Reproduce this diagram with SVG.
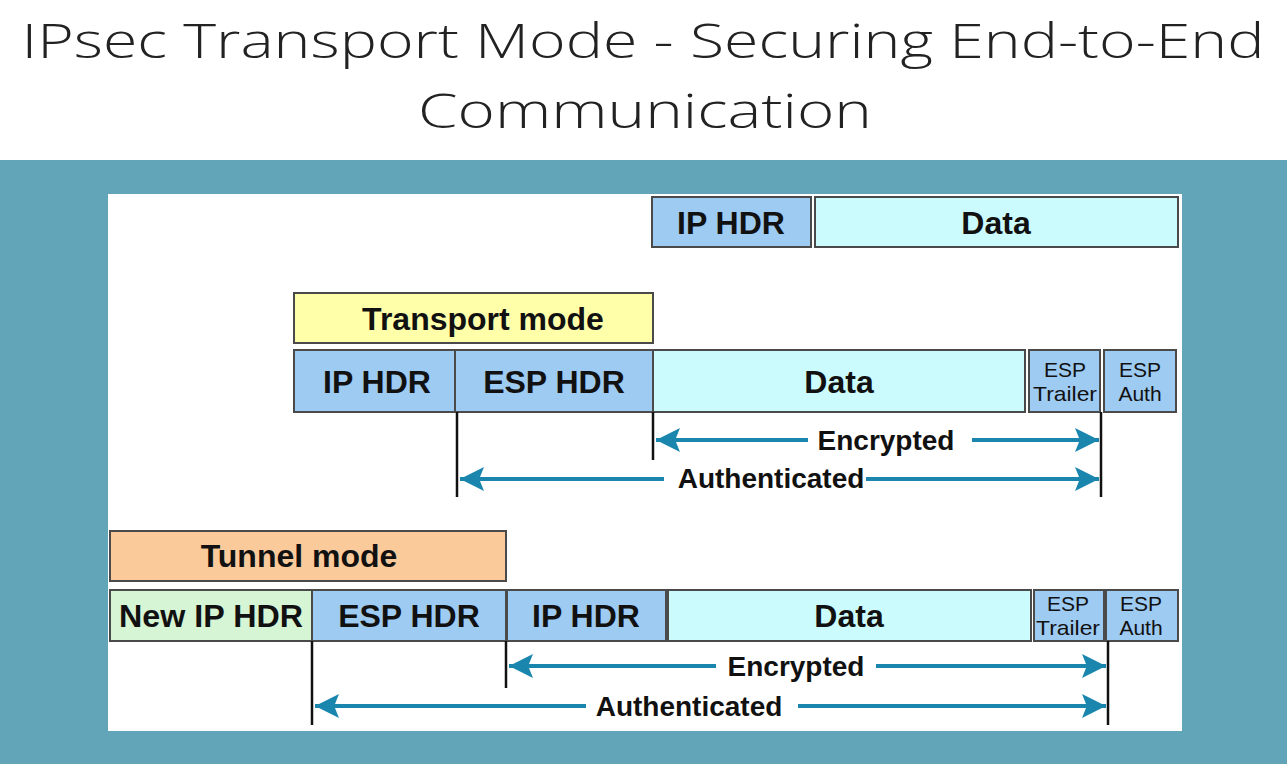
<svg xmlns="http://www.w3.org/2000/svg" width="1287" height="764" viewBox="0 0 1287 764">
<defs>
<style>
.box{stroke:#4a4a4a;stroke-width:2}
.hdr{fill:#9ECBF2}
.dat{fill:#CCFBFD}
.lbl{font-family:"Liberation Sans",Arial,sans-serif;font-weight:bold;font-size:32px;fill:#111;text-anchor:middle}
.sm{font-family:"Liberation Sans",Arial,sans-serif;font-size:21px;fill:#111;text-anchor:middle}
.vl{stroke:#111;stroke-width:2.5}
.arr{stroke:#1A86AE;stroke-width:4;fill:none}
.albl{font-family:"Liberation Sans",Arial,sans-serif;font-weight:bold;font-size:28px;fill:#111;text-anchor:middle}
.ttl{font-family:"Open Sans",sans-serif;font-weight:300;font-size:48px;fill:#222;text-anchor:middle}
</style>
<marker id="ah" viewBox="0 0 10 10" refX="10" refY="5" markerWidth="6" markerHeight="6" markerUnits="strokeWidth" orient="auto-start-reverse">
<path d="M0,0 L10,5 L0,10 L2,5 Z" fill="#1A86AE"/>
</marker>
</defs>
<rect width="1287" height="764" fill="#ffffff"/>
<text class="ttl" x="643" y="58" textLength="1243" lengthAdjust="spacingAndGlyphs">IPsec Transport Mode - Securing End-to-End</text>
<text class="ttl" x="645" y="128" textLength="454" lengthAdjust="spacingAndGlyphs">Communication</text>
<rect x="0" y="160" width="1287" height="604" fill="#62A5B8"/>
<rect x="108" y="194" width="1074" height="537" fill="#ffffff"/>

<g id="orig-ip"><rect class="box hdr" x="652" y="197" width="159" height="50"/><text class="lbl" x="731" y="234">IP HDR</text></g>
<g id="orig-data"><rect class="box dat" x="815" y="197" width="363" height="50"/><text class="lbl" x="996" y="234">Data</text></g>

<g id="transport-mode"><rect class="box" fill="#FFFFAA" x="294" y="293" width="359" height="50"/><text class="lbl" x="483" y="330">Transport mode</text></g>
<g id="t-ip"><rect class="box hdr" x="294" y="350" width="161" height="62"/><text class="lbl" x="377" y="393">IP HDR</text></g>
<g id="t-esp"><rect class="box hdr" x="455" y="350" width="198" height="62"/><text class="lbl" x="554" y="393">ESP HDR</text></g>
<g id="t-data"><rect class="box dat" x="653" y="350" width="372" height="62"/><text class="lbl" x="839" y="393">Data</text></g>
<g id="t-trailer"><rect class="box hdr" x="1029" y="350" width="71" height="62"/><text class="sm" x="1065" y="377">ESP</text><text class="sm" x="1065" y="401" textLength="64" lengthAdjust="spacingAndGlyphs">Trailer</text></g>
<g id="t-auth"><rect class="box hdr" x="1104" y="350" width="72" height="62"/><text class="sm" x="1140" y="377">ESP</text><text class="sm" x="1140" y="401">Auth</text></g>

<g id="tunnel-mode"><rect class="box" fill="#FBCA9B" x="110" y="531" width="396" height="50"/><text class="lbl" x="299" y="567">Tunnel mode</text></g>
<g id="u-newip"><rect class="box" fill="#D6F5D4" x="110" y="590" width="202" height="51"/><text class="lbl" x="211" y="627" textLength="184" lengthAdjust="spacingAndGlyphs">New IP HDR</text></g>
<g id="u-esp"><rect class="box hdr" x="312" y="590" width="194" height="51"/><text class="lbl" x="409" y="627">ESP HDR</text></g>
<g id="u-ip"><rect class="box hdr" x="507" y="590" width="159" height="51"/><text class="lbl" x="586" y="627">IP HDR</text></g>
<g id="u-data"><rect class="box dat" x="668" y="590" width="363" height="51"/><text class="lbl" x="849" y="627">Data</text></g>
<g id="u-trailer"><rect class="box hdr" x="1034" y="590" width="70" height="51"/><text class="sm" x="1068" y="611">ESP</text><text class="sm" x="1068" y="635" textLength="64" lengthAdjust="spacingAndGlyphs">Trailer</text></g>
<g id="u-auth"><rect class="box hdr" x="1106" y="590" width="72" height="51"/><text class="sm" x="1141" y="611">ESP</text><text class="sm" x="1141" y="635">Auth</text></g>

<g id="connectors">
<line class="vl" x1="457" y1="412" x2="457" y2="497"/>
<line class="vl" x1="653" y1="412" x2="653" y2="460"/>
<line class="vl" x1="1101" y1="412" x2="1101" y2="497"/>
<line class="arr" x1="808" y1="440" x2="656" y2="440" marker-end="url(#ah)"/>
<line class="arr" x1="972" y1="440" x2="1099" y2="440" marker-end="url(#ah)"/>
<text class="albl" x="886" y="450">Encrypted</text>
<line class="arr" x1="664" y1="479" x2="460" y2="479" marker-end="url(#ah)"/>
<line class="arr" x1="866" y1="479" x2="1099" y2="479" marker-end="url(#ah)"/>
<text class="albl" x="771" y="488">Authenticated</text>

<line class="vl" x1="312" y1="641" x2="312" y2="725"/>
<line class="vl" x1="506" y1="641" x2="506" y2="688"/>
<line class="vl" x1="1108" y1="641" x2="1108" y2="725"/>
<line class="arr" x1="716" y1="666" x2="509" y2="666" marker-end="url(#ah)"/>
<line class="arr" x1="876" y1="666" x2="1106" y2="666" marker-end="url(#ah)"/>
<text class="albl" x="796" y="676">Encrypted</text>
<line class="arr" x1="586" y1="706" x2="315" y2="706" marker-end="url(#ah)"/>
<line class="arr" x1="798" y1="706" x2="1106" y2="706" marker-end="url(#ah)"/>
<text class="albl" x="689" y="716">Authenticated</text>
</g>
</svg>
